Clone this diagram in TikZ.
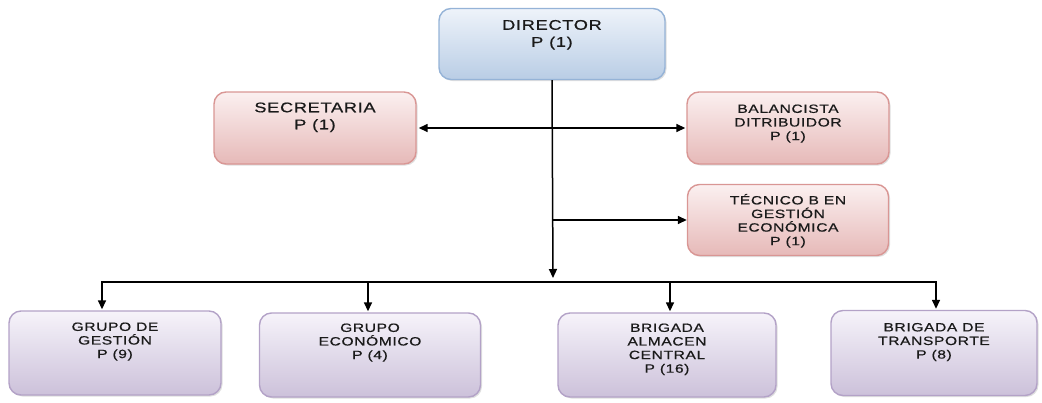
\documentclass[tikz,border=0pt]{standalone}
\usepackage{fontspec}
\setmainfont{Liberation Sans}[FakeStretch=1.3,LetterSpace=5,FakeBold=0.6]
\usetikzlibrary{arrows.meta,shadows}
\definecolor{bluetop}{HTML}{EEF3FA}
\definecolor{bluebot}{HTML}{B9CDE5}
\definecolor{blueline}{HTML}{95B3D7}
\definecolor{redtop}{HTML}{FBF0F0}
\definecolor{redbot}{HTML}{E6B9B8}
\definecolor{redline}{HTML}{D99694}
\definecolor{viotop}{HTML}{F6F3FA}
\definecolor{viobot}{HTML}{CCC1DA}
\definecolor{violine}{HTML}{B3A2C7}
\definecolor{txtc}{HTML}{1A1A1A}
\tikzset{
  orgbox/.style={draw, line width=1.4pt, rounded corners=12pt, inner sep=0pt,
    drop shadow={opacity=0.25, shadow xshift=1.5pt, shadow yshift=-1.5pt}},
  bluebox/.style={orgbox, draw=blueline, top color=bluetop, bottom color=bluebot},
  redbox/.style={orgbox, draw=redline, top color=redtop, bottom color=redbot},
  viobox/.style={orgbox, draw=violine, top color=viotop, bottom color=viobot},
  bigtxt/.style={anchor=north, inner sep=0pt, align=center, text=txtc, font=\fontsize{14}{17}\selectfont},
  smalltxt/.style={anchor=north, inner sep=0pt, align=center, text=txtc, font=\fontsize{12}{13.6}\selectfont},
  conn/.style={line width=1.5pt, draw=black},
  arr/.style={conn, -{Triangle[length=9pt,width=8pt]}},
  darr/.style={conn, {Triangle[length=9pt,width=8pt]}-{Triangle[length=9pt,width=8pt]}},
}
\begin{document}
\begin{tikzpicture}[x=1pt,y=-1pt]
\useasboundingbox (0,0) rectangle (1042,402);
% boxes
\node[bluebox, minimum width=226pt, minimum height=71pt] (dir) at (552,44) {};
\node[redbox, minimum width=202pt, minimum height=72pt] (sec) at (315,128) {};
\node[redbox, minimum width=202pt, minimum height=72pt] (bal) at (788,128) {};
\node[redbox, minimum width=201pt, minimum height=71pt] (tec) at (788,220) {};
\node[viobox, minimum width=212pt, minimum height=84pt] (g1) at (115,353) {};
\node[viobox, minimum width=221pt, minimum height=84pt] (g2) at (370,355) {};
\node[viobox, minimum width=218pt, minimum height=84pt] (g3) at (667,355) {};
\node[viobox, minimum width=206pt, minimum height=85pt] (g4) at (934,353) {};
% texts
\node[bigtxt] (dirt) at ([yshift=-12pt]dir.north) {DIRECTOR\\P (1)};
\node[bigtxt] (sect) at ([yshift=-11pt]sec.north) {SECRETARIA\\P (1)};
\node[smalltxt] (balt) at ([yshift=-13pt]bal.north) {BALANCISTA\\DITRIBUIDOR\\P (1)};
\node[smalltxt] (tect) at ([yshift=-10pt]tec.north) {TÉCNICO B EN\\GESTIÓN\\ECONÓMICA\\P (1)};
\node[smalltxt] (g1t) at ([yshift=-12pt]g1.north) {GRUPO DE\\GESTIÓN\\P (9)};
\node[smalltxt] (g2t) at ([yshift=-11pt]g2.north) {GRUPO\\ECONÓMICO\\P (4)};
\node[smalltxt] (g3t) at ([yshift=-11pt]g3.north) {BRIGADA\\ALMACEN\\CENTRAL\\P (16)};
\node[smalltxt] (g4t) at ([yshift=-13pt]g4.north) {BRIGADA DE\\TRANSPORTE\\P (8)};
% connectors
\coordinate (bus) at (553,282);
\coordinate (d1) at (102,282);
\coordinate (d2) at (368,282);
\coordinate (d3) at (670,282);
\coordinate (d4) at (936,282);
\draw[arr] (dir.south) -- ([yshift=4pt]bus);
\draw[darr, shorten <=2pt, shorten >=1pt] (sec.east) -- (bal.west);
\draw[arr] (dir.south |- tec.west) -- (tec.west);
\draw[conn] ([xshift=-0.75pt]d1) -- ([xshift=0.75pt]d4);
\draw[arr, shorten >=1pt] (d1) -- (d1 |- g1.north);
\draw[arr, shorten >=1pt] (d2) -- (d2 |- g2.north);
\draw[arr, shorten >=1pt] (d3) -- (d3 |- g3.north);
\draw[arr, shorten >=1pt] (d4) -- (d4 |- g4.north);
\end{tikzpicture}
\end{document}
